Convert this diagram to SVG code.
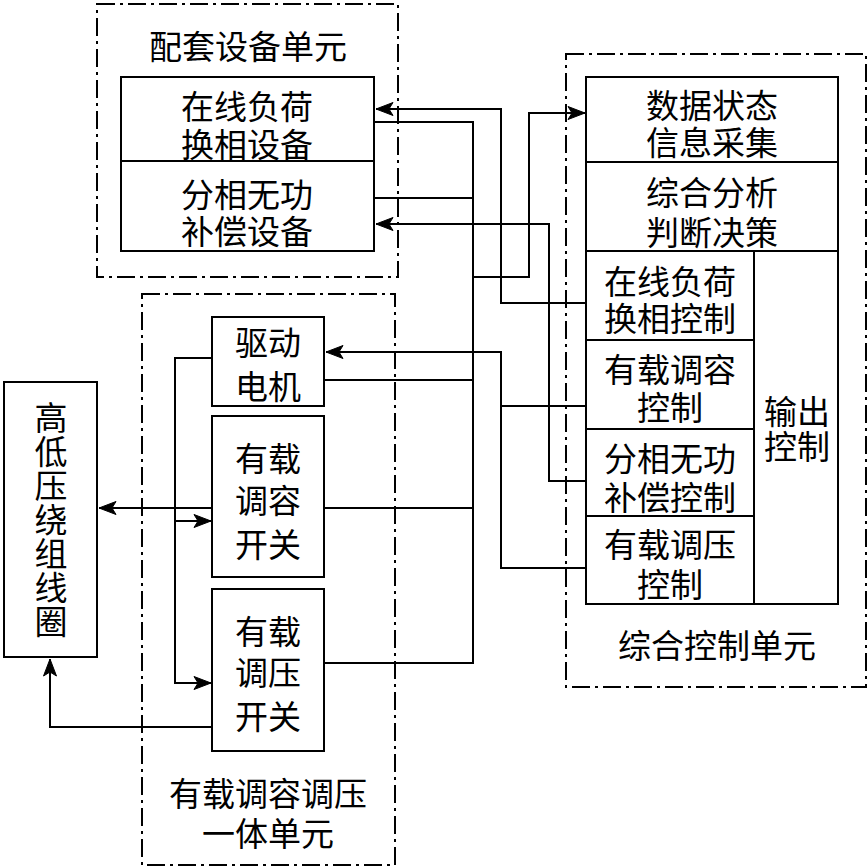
<svg xmlns="http://www.w3.org/2000/svg" width="868" height="868" viewBox="0 0 868 868">
<defs>
<marker id="arr" viewBox="0 0 17 14" refX="17" refY="7" markerUnits="userSpaceOnUse" markerWidth="17" markerHeight="14" orient="auto" overflow="visible">
<path d="M0,0.5 L17,7 L0,13.5 L4,7 Z" fill="#000" stroke="#000" stroke-width="1" stroke-linejoin="miter"/>
</marker>
<style>
.unit{fill:none;stroke:#000;stroke-width:2;stroke-dasharray:18 5 3 5}
.box{fill:#fff;stroke:#000;stroke-width:2}
.ln{fill:none;stroke:#000;stroke-width:2}
.ar{fill:none;stroke:#000;stroke-width:2;marker-end:url(#arr)}
text{font-family:"Noto Sans CJK SC","Noto Sans CJK JP",sans-serif;font-size:33px;fill:#000;text-anchor:middle;dominant-baseline:central}
.vt{writing-mode:vertical-rl;letter-spacing:1px;dominant-baseline:auto}
</style>
</defs>
<rect width="868" height="868" fill="#fff"/>

<g id="unit-peitao">
<rect class="unit" x="97" y="4" width="301" height="273"/>
<text x="248" y="45">配套设备单元</text>
</g>
<g id="unit-integrated">
<rect class="unit" x="142" y="294" width="253" height="571"/>
<text x="268" y="792">有载调容调压<tspan x="268" dy="40">一体单元</tspan></text>
</g>
<g id="unit-control">
<rect class="unit" x="566" y="54" width="300" height="633"/>
<text x="717" y="644">综合控制单元</text>
</g>

<g id="connectors">
<path class="ar" d="M586,303 H501 V109 H376"/>
<path class="ln" d="M374,122 H473 V663 H324"/>
<path class="ln" d="M374,198 H473"/>
<path class="ln" d="M324,380 H473"/>
<path class="ln" d="M324,508 H473"/>
<path class="ar" d="M473,277 H529 V113 H585"/>
<path class="ar" d="M586,481 H549 V224 H376"/>
<path class="ar" d="M586,406 H501 V352 H326"/>
<path class="ln" d="M586,568 H501 V406"/>
<path class="ar" d="M212,358 H175 V683 H211"/>
<path class="ar" d="M175,521 H211"/>
<path class="ar" d="M212,508 H99"/>
<path class="ar" d="M212,727 H50 V659"/>
</g>

<g id="node-online-phase-dev">
<rect class="box" x="121" y="77" width="253" height="84"/>
<text x="247" y="105">在线负荷<tspan x="247" dy="38">换相设备</tspan></text>
</g>
<g id="node-phase-comp-dev">
<rect class="box" x="121" y="161" width="253" height="90"/>
<text x="247" y="193">分相无功<tspan x="247" dy="37">补偿设备</tspan></text>
</g>

<g id="node-coil">
<rect class="box" x="4" y="382" width="93" height="275"/>
<text class="vt" x="51" y="520">高低压绕组线圈</text>
</g>

<g id="node-motor">
<rect class="box" x="212" y="317" width="112" height="89"/>
<text x="268" y="341">驱动<tspan x="268" dy="44">电机</tspan></text>
</g>
<g id="node-cap-switch">
<rect class="box" x="212" y="416" width="112" height="161"/>
<text x="268" y="457">有载<tspan x="268" dy="42">调容</tspan><tspan x="268" dy="44">开关</tspan></text>
</g>
<g id="node-volt-switch">
<rect class="box" x="212" y="589" width="112" height="162"/>
<text x="268" y="630">有载<tspan x="268" dy="41">调压</tspan><tspan x="268" dy="44">开关</tspan></text>
</g>

<g id="node-data">
<rect class="box" x="586" y="77" width="252" height="85"/>
<text x="712" y="104">数据状态<tspan x="712" dy="37">信息采集</tspan></text>
</g>
<g id="node-analysis">
<rect class="box" x="586" y="162" width="252" height="89"/>
<text x="712" y="191">综合分析<tspan x="712" dy="40">判断决策</tspan></text>
</g>
<g id="node-output">
<rect class="box" x="754" y="251" width="84" height="353"/>
<text x="797" y="410">输出<tspan x="797" dy="35">控制</tspan></text>
</g>
<g id="node-ctl-online">
<rect class="box" x="586" y="251" width="168" height="89"/>
<text x="670" y="280">在线负荷<tspan x="670" dy="37">换相控制</tspan></text>
</g>
<g id="node-ctl-cap">
<rect class="box" x="586" y="340" width="168" height="89"/>
<text x="670" y="368">有载调容<tspan x="670" dy="38">控制</tspan></text>
</g>
<g id="node-ctl-comp">
<rect class="box" x="586" y="429" width="168" height="87"/>
<text x="670" y="457">分相无功<tspan x="670" dy="39">补偿控制</tspan></text>
</g>
<g id="node-ctl-volt">
<rect class="box" x="586" y="516" width="168" height="88"/>
<text x="670" y="543">有载调压<tspan x="670" dy="40">控制</tspan></text>
</g>
</svg>
